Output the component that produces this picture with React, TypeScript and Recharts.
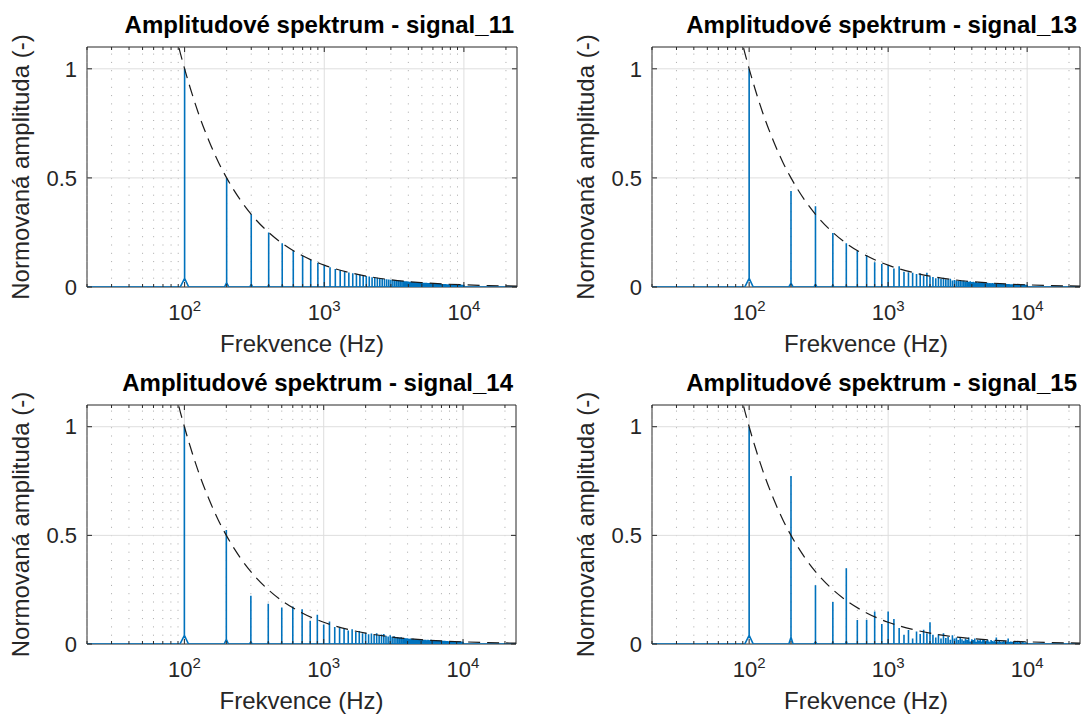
import React from 'react';
import {
  LineChart,
  Line,
  XAxis,
  YAxis,
  ReferenceLine,
  ReferenceArea,
  Label,
} from 'recharts';

// harmonic amplitudes (normalised), harmonic n = index + 1, fundamental 100 Hz
const signal11 = [
  1, 0.5, 0.333, 0.25, 0.2, 0.167, 0.143, 0.125, 0.111, 0.1,
  0.091, 0.083, 0.077, 0.071, 0.067, 0.063, 0.059, 0.056, 0.053, 0.05,
  0.048, 0.045, 0.043, 0.042, 0.04, 0.038, 0.037, 0.036, 0.034, 0.033,
  0.032, 0.031, 0.03, 0.029, 0.029, 0.028, 0.027, 0.026, 0.026, 0.025,
  0.024, 0.024, 0.023, 0.023, 0.022, 0.022, 0.021, 0.021, 0.02, 0.02,
  0.02, 0.019, 0.019, 0.019, 0.018, 0.018, 0.018, 0.017, 0.017, 0.017,
  0.016, 0.016, 0.016, 0.016, 0.015, 0.015, 0.015, 0.015, 0.014, 0.014,
  0.014, 0.014, 0.014, 0.014, 0.013, 0.013, 0.013, 0.013, 0.013, 0.013,
  0.012, 0.012, 0.012, 0.012, 0.012, 0.012, 0.011, 0.011, 0.011, 0.011,
  0.011, 0.011, 0.011, 0.011, 0.011, 0.01, 0.01, 0.01, 0.01, 0.01,
];

const signal13 = [
  1, 0.44, 0.37, 0.247, 0.2, 0.165, 0.145, 0.114, 0.105, 0.1,
  0.085, 0.095, 0.07, 0.068, 0.065, 0.06, 0.062, 0.05, 0.065, 0.048,
  0.046, 0.04, 0.044, 0.038, 0.042, 0.036, 0.035, 0.038, 0.03, 0.032,
  0.03, 0.028, 0.031, 0.027, 0.029, 0.025, 0.027, 0.024, 0.026, 0.023,
  0.024, 0.022, 0.023, 0.02, 0.022, 0.021, 0.019, 0.021, 0.018, 0.02,
  0.018, 0.019, 0.017, 0.018, 0.016, 0.018, 0.017, 0.015, 0.017, 0.016,
  0.015, 0.016, 0.014, 0.015, 0.016, 0.013, 0.015, 0.014, 0.013, 0.015,
  0.013, 0.014, 0.012, 0.014, 0.013, 0.012, 0.013, 0.011, 0.013, 0.012,
  0.012, 0.011, 0.013, 0.011, 0.012, 0.01, 0.012, 0.011, 0.01, 0.012,
  0.01, 0.011, 0.01, 0.011, 0.009, 0.011, 0.01, 0.009, 0.01, 0.01,
];

const signal14 = [
  1, 0.525, 0.222, 0.185, 0.168, 0.173, 0.16, 0.107, 0.135, 0.09,
  0.104, 0.078, 0.075, 0.07, 0.062, 0.068, 0.055, 0.06, 0.05, 0.052,
  0.045, 0.048, 0.042, 0.05, 0.04, 0.044, 0.046, 0.038, 0.035, 0.04,
  0.033, 0.036, 0.03, 0.032, 0.029, 0.031, 0.027, 0.028, 0.026, 0.027,
  0.024, 0.025, 0.023, 0.024, 0.022, 0.023, 0.021, 0.022, 0.02, 0.021,
  0.021, 0.018, 0.02, 0.019, 0.017, 0.02, 0.018, 0.016, 0.019, 0.017,
  0.016, 0.018, 0.015, 0.017, 0.016, 0.014, 0.016, 0.015, 0.014, 0.016,
  0.014, 0.015, 0.013, 0.015, 0.014, 0.012, 0.014, 0.013, 0.012, 0.014,
  0.012, 0.013, 0.011, 0.013, 0.012, 0.011, 0.012, 0.011, 0.012, 0.011,
  0.011, 0.012, 0.01, 0.011, 0.01, 0.011, 0.01, 0.011, 0.009, 0.01,
];

const signal15 = [
  1, 0.773, 0.27, 0.193, 0.349, 0.11, 0.112, 0.15, 0.092, 0.15,
  0.115, 0.074, 0.043, 0.064, 0.025, 0.058, 0.046, 0.066, 0.05, 0.1,
  0.043, 0.03, 0.045, 0.025, 0.05, 0.028, 0.035, 0.02, 0.04, 0.025,
  0.03, 0.018, 0.028, 0.022, 0.015, 0.025, 0.02, 0.03, 0.012, 0.022,
  0.018, 0.025, 0.01, 0.02, 0.015, 0.022, 0.012, 0.018, 0.02, 0.01,
  0.015, 0.02, 0.012, 0.008, 0.018, 0.014, 0.01, 0.016, 0.009, 0.03,
  0.012, 0.008, 0.015, 0.01, 0.006, 0.012, 0.009, 0.014, 0.007, 0.01,
  0.008, 0.012, 0.025, 0.009, 0.006, 0.011, 0.008, 0.01, 0.005, 0.009,
  0.006, 0.01, 0.005, 0.008, 0.012, 0.004, 0.007, 0.009, 0.005, 0.008,
  0.006, 0.004, 0.009, 0.005, 0.007, 0.004, 0.006, 0.008, 0.004, 0.006,
];

// dashed reference envelope
const envelopeFreq = [85, 90, 100, 110, 125, 150, 175, 200, 250, 300, 400, 500, 700, 1000, 1500, 2000, 3000, 5000, 7000, 10000, 15000, 24000];
const envelopeAmp = [1.18, 1.11, 1.0, 0.91, 0.8, 0.667, 0.571, 0.5, 0.4, 0.333, 0.25, 0.2, 0.143, 0.1, 0.067, 0.05, 0.033, 0.02, 0.014, 0.01, 0.0067, 0.0042];

const xMajorTicks = [100, 1000, 10000];
const xMinorTicks = [
  20, 30, 40, 50, 60, 70, 80, 90,
  200, 300, 400, 500, 600, 700, 800, 900,
  2000, 3000, 4000, 5000, 6000, 7000, 8000, 9000,
  20000,
];
const xTickLabels: Record<number, string> = { 100: '2', 1000: '3', 10000: '4' };
const yTicks = [0, 0.5, 1];

const F_MIN = 20;
const F_MAX = 24000;
const F0 = 100;
const SKIRT_HZ = 7;
const SKIRT_RATIO = 0.04;

const BLUE = '#0072BD';
const AXIS = '#262626';
const FONT = '"Liberation Sans", Arial, Helvetica, sans-serif';

const buildSpectrum = (amps: number[]) => {
  const pts = [{ f: F_MIN, a: 0 }];
  amps.forEach((a, i) => {
    const f = F0 * (i + 1);
    pts.push(
      { f: f - SKIRT_HZ, a: 0 },
      { f, a: a * SKIRT_RATIO },
      { f, a },
      { f, a: a * SKIRT_RATIO },
      { f: f + SKIRT_HZ, a: 0 },
    );
  });
  pts.push({ f: F_MAX, a: 0 });
  return pts;
};

const envelopeData = envelopeFreq.map((f, i) => ({ f, a: envelopeAmp[i] }));

const panels = [
  { title: 'Amplitudové spektrum - signal_11', amps: signal11, left: 87, top: 47, w: 430, h: 240 },
  { title: 'Amplitudové spektrum - signal_13', amps: signal13, left: 652, top: 47, w: 428, h: 240 },
  { title: 'Amplitudové spektrum - signal_14', amps: signal14, left: 87, top: 405, w: 429, h: 239 },
  { title: 'Amplitudové spektrum - signal_15', amps: signal15, left: 652, top: 405, w: 428, h: 239 },
];

const LEFT = 87;
const TOP = 47;
const BOTTOM = 71;
const RIGHT = 6;

const XTick = ({ x, y, payload, plotH }: any) => {
  const v = payload.value;
  const major = xMajorTicks.includes(v);
  const len = major ? 5 : 3;
  return (
    <g>
      <line x1={x} x2={x} y1={y} y2={y - len} stroke={AXIS} strokeWidth={1} />
      <line x1={x} x2={x} y1={y - plotH} y2={y - plotH + len} stroke={AXIS} strokeWidth={1} />
      {major && (
        <text x={x} y={y + 33} textAnchor="middle" fontSize={22} fill={AXIS}>
          10
          <tspan dy={-9} fontSize={15}>
            {xTickLabels[v]}
          </tspan>
        </text>
      )}
    </g>
  );
};

const YTick = ({ x, y, payload, plotW }: any) => (
  <g>
    <line x1={x} x2={x + 5} y1={y} y2={y} stroke={AXIS} strokeWidth={1} />
    <line x1={x + plotW} x2={x + plotW - 5} y1={y} y2={y} stroke={AXIS} strokeWidth={1} />
    <text x={x - 10} y={y} dy="0.35em" textAnchor="end" fontSize={22} fill={AXIS}>
      {String(payload.value)}
    </text>
  </g>
);

const Panel = ({ p }: { p: (typeof panels)[number] }) => {
  const data = buildSpectrum(p.amps);
  return (
    <div style={{ position: 'absolute', left: p.left - LEFT, top: p.top - TOP }}>
      <LineChart
        width={LEFT + p.w + RIGHT}
        height={TOP + p.h + BOTTOM}
        margin={{ top: TOP, right: RIGHT, bottom: 0, left: 0 }}
      >
        <XAxis
          dataKey="f"
          type="number"
          scale="log"
          domain={[F_MIN, F_MAX]}
          allowDataOverflow
          ticks={[...xMinorTicks, ...xMajorTicks].sort((a, b) => a - b)}
          interval={0}
          height={BOTTOM}
          axisLine={false}
          tickLine={false}
          tickSize={0}
          tickMargin={0}
          tick={(props: any) => <XTick {...props} plotH={p.h} />}
        >
          <Label
            content={({ viewBox }: any) => (
              <g>
                <text
                  x={viewBox.x + viewBox.width / 2}
                  y={viewBox.y + 65}
                  textAnchor="middle"
                  fontSize={24}
                  fill={AXIS}
                >
                  Frekvence (Hz)
                </text>
                <text
                  x={viewBox.x + viewBox.width - 3}
                  y={viewBox.y - p.h - 13.7}
                  textAnchor="end"
                  fontSize={24}
                  fontWeight="bold"
                  fill="#000"
                >
                  {p.title}
                </text>
              </g>
            )}
          />
        </XAxis>
        <YAxis
          type="number"
          domain={[0, 1.1]}
          allowDataOverflow
          ticks={yTicks}
          interval={0}
          width={LEFT}
          axisLine={false}
          tickLine={false}
          tickSize={0}
          tickMargin={0}
          tick={(props: any) => <YTick {...props} plotW={p.w} />}
        >
          <Label
            content={({ viewBox }: any) => {
              const cx = 28.5;
              const cy = viewBox.y + viewBox.height / 2;
              return (
                <text
                  x={cx}
                  y={cy}
                  transform={`rotate(-90, ${cx}, ${cy})`}
                  textAnchor="middle"
                  fontSize={24}
                  fill={AXIS}
                >
                  Normovaná amplituda (-)
                </text>
              );
            }}
          />
        </YAxis>
        {xMinorTicks.map((v) => (
          <ReferenceLine key={`mn${v}`} x={v} stroke="#a8a8a8" strokeWidth={1} strokeDasharray="1 7.3" />
        ))}
        {xMajorTicks.map((v) => (
          <ReferenceLine key={`mj${v}`} x={v} stroke="#dedede" strokeWidth={1} />
        ))}
        {yTicks.slice(1).map((v) => (
          <ReferenceLine key={`y${v}`} y={v} stroke="#dedede" strokeWidth={1} />
        ))}
        <ReferenceArea
          x1={F_MIN}
          x2={F_MAX}
          y1={0}
          y2={1.1}
          fill="none"
          stroke={AXIS}
          strokeWidth={1}
          ifOverflow="visible"
        />
        <Line
          data={data}
          dataKey="a"
          type="linear"
          stroke={BLUE}
          strokeWidth={1.6}
          dot={false}
          activeDot={false}
          isAnimationActive={false}
        />
        <Line
          data={envelopeData}
          dataKey="a"
          type="monotone"
          stroke="#1a1a1a"
          strokeWidth={1.2}
          strokeDasharray="12 7"
          dot={false}
          activeDot={false}
          isAnimationActive={false}
        />
      </LineChart>
    </div>
  );
}

export default function App() {
  return (
    <div
      style={{
        position: 'absolute',
        left: 0,
        top: 0,
        width: 1086,
        height: 716,
        background: '#fff',
        fontFamily: FONT,
        overflow: 'hidden',
      }}
    >
      {panels.map((p) => (
        <Panel key={p.title} p={p} />
      ))}
    </div>
  );
}
